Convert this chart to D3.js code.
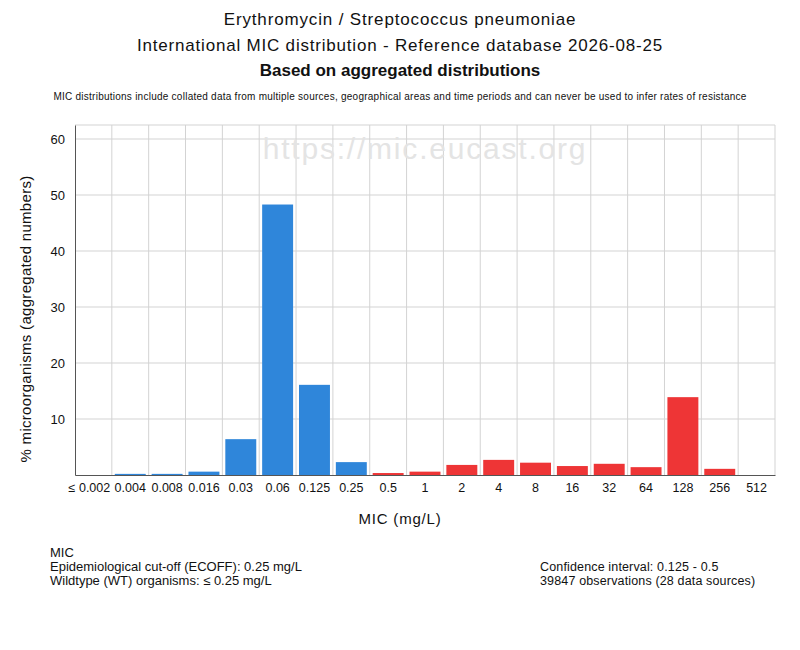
<!DOCTYPE html>
<html>
<head>
<meta charset="utf-8">
<script src="https://cdn.jsdelivr.net/npm/d3@7"></script>
<style>
  body { margin: 0; background: #fff; }
  svg text { font-family: "Liberation Sans", Arial, sans-serif; fill: #111; }
</style>
</head>
<body>
<svg id="chart" width="800" height="650"></svg>
<script>
// MIC categories (mg/L) and % of organisms per category
const micLabels = ["≤ 0.002", "0.004", "0.008", "0.016", "0.03", "0.06", "0.125", "0.25", "0.5", "1", "2", "4", "8", "16", "32", "64", "128", "256", "512"];
const percentValues = [0, 0.2, 0.2, 0.6, 6.4, 48.3, 16.1, 2.3, 0.35, 0.6, 1.8, 2.7, 2.2, 1.6, 2.0, 1.4, 13.9, 1.1, 0];
// wildtype (<= ECOFF) vs non-wildtype
const wildtype = [true, true, true, true, true, true, true, true, false, false, false, false, false, false, false, false, false, false, false];
const yTicks = [10, 20, 30, 40, 50, 60];

const titleLines = [
  "Erythromycin / Streptococcus pneumoniae",
  "International MIC distribution - Reference database 2026-08-25"
];
const subTitle = "Based on aggregated distributions";
const disclaimer = "MIC distributions include collated data from multiple sources, geographical areas and time periods and can never be used to infer rates of resistance";
const footLeft = ["MIC", "Epidemiological cut-off (ECOFF): 0.25 mg/L", "Wildtype (WT) organisms: ≤ 0.25 mg/L"];
const footRight = ["Confidence interval: 0.125 - 0.5", "39847 observations (28 data sources)"];

const svg = d3.select("#chart");
const margin = { top: 125, right: 25, bottom: 175, left: 75 };
const width = 800 - margin.left - margin.right;
const height = 650 - margin.top - margin.bottom;

/*── titles ──*/
svg.append("text").attr("x", 400).attr("y", 25).attr("text-anchor", "middle")
  .style("font-size", "17px").style("letter-spacing", "0.85px").text(titleLines[0]);
svg.append("text").attr("x", 400).attr("y", 51).attr("text-anchor", "middle")
  .style("font-size", "17px").style("letter-spacing", "0.8px").text(titleLines[1]);
svg.append("text").attr("x", 400).attr("y", 76).attr("text-anchor", "middle")
  .style("font-size", "17px").style("font-weight", "bold").text(subTitle);
svg.append("text").attr("x", 400).attr("y", 100).attr("text-anchor", "middle")
  .style("font-size", "10px").style("letter-spacing", "0.25px").text(disclaimer);

const x = d3.scaleBand().domain(micLabels).range([0, width]).paddingInner(0.16).paddingOuter(0.08);
const y = d3.scaleLinear().domain([0, 62.5]).range([height, 0]);

const plot = svg.append("g").attr("transform", `translate(${margin.left}, ${margin.top})`);

// grid
plot.append("g").selectAll("line").data(yTicks.concat([62.5])).join("line")
  .attr("x1", 0).attr("x2", width)
  .attr("y1", (d) => y(d)).attr("y2", (d) => y(d))
  .attr("stroke", "#d3d3d3").attr("stroke-width", 1);
plot.append("g").selectAll("line").data(d3.range(1, micLabels.length + 1)).join("line")
  .attr("x1", (i) => i * width / micLabels.length).attr("x2", (i) => i * width / micLabels.length)
  .attr("y1", 0).attr("y2", height)
  .attr("stroke", "#d3d3d3").attr("stroke-width", 1);

// watermark
plot.append("text").attr("x", width / 2).attr("y", 34).attr("text-anchor", "middle")
  .style("font-size", "30px").style("letter-spacing", "1.8px").style("fill", "#e4e4e4").text("https://mic.eucast.org");

// bars
plot.append("g").selectAll("rect").data(percentValues).join("rect")
  .attr("x", (d, i) => x(micLabels[i]))
  .attr("y", (d) => y(d))
  .attr("width", x.bandwidth())
  .attr("height", (d) => height - y(d))
  .attr("fill", (d, i) => wildtype[i] ? "#2f86da" : "#ee3536");

// axes
const xAxis = plot.append("g").attr("transform", `translate(0, ${height})`)
  .call(d3.axisBottom(x).tickSize(0).tickPadding(8));
xAxis.select(".domain").attr("stroke", "#555");
xAxis.selectAll("text").style("font-size", "12.5px").style("font-family", "'Liberation Sans', Arial, sans-serif").attr("fill", "#111");
// first label hangs to the left like the original
xAxis.selectAll("text").filter((d, i) => i === 0).attr("dx", -4);

const yAxis = plot.append("g")
  .call(d3.axisLeft(y).tickValues(yTicks).tickSize(0).tickPadding(10));
yAxis.select(".domain").attr("stroke", "#555");
yAxis.selectAll("text").style("font-size", "13px").style("font-family", "'Liberation Sans', Arial, sans-serif").attr("fill", "#111");

// axis labels
svg.append("text").attr("x", 400).attr("y", 524).attr("text-anchor", "middle")
  .style("font-size", "15px").style("letter-spacing", "0.8px").text("MIC (mg/L)");
svg.append("text").attr("transform", "translate(31, 319) rotate(-90)").attr("text-anchor", "middle")
  .style("font-size", "15px").style("letter-spacing", "0.3px").text("% microorganisms (aggregated numbers)");

// footer
svg.append("g").selectAll("text").data(footLeft).join("text")
  .attr("x", 50).attr("y", (d, i) => 557 + i * 14)
  .style("font-size", "13px").text((d) => d);
svg.append("g").selectAll("text").data(footRight).join("text")
  .attr("x", 540).attr("y", (d, i) => 571 + i * 14)
  .style("font-size", "12.5px").style("letter-spacing", "0.15px").text((d) => d);
</script>
</body>
</html>
